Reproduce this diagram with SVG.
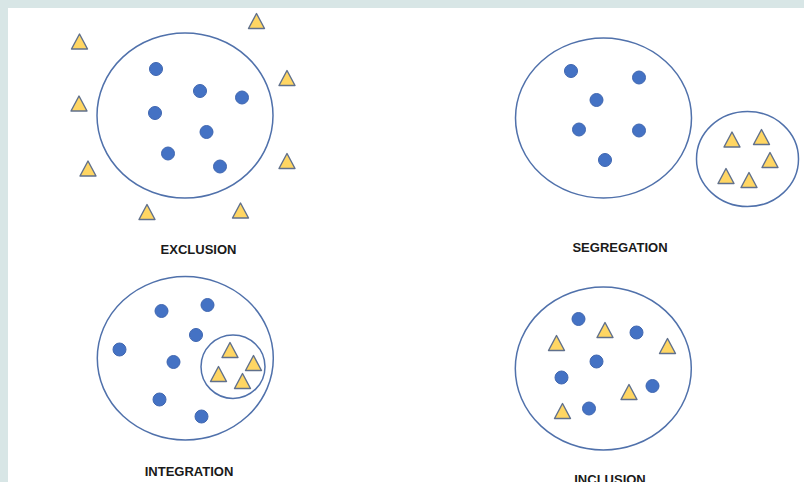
<svg xmlns="http://www.w3.org/2000/svg" xmlns:xlink="http://www.w3.org/1999/xlink" width="804" height="482" viewBox="0 0 804 482">
<style>
.ring{fill:none;stroke:#5071ab;stroke-width:1.5}
.dot{fill:#4472c4;stroke:#3f66b0;stroke-width:1}
.tri{fill:#ffd663;stroke:#60708c;stroke-width:1.4;stroke-linejoin:round}
.lbl{font-family:"Liberation Sans",Arial,sans-serif;font-weight:bold;font-size:13px;fill:#1a1a1a;text-anchor:middle}
</style>
<defs>
<circle id="d" r="6.5" class="dot"/>
<path id="t" d="M0,-8 L8,7 L-8,7 Z" class="tri"/>
</defs>
<rect width="804" height="482" fill="#d8e6e6"/>
<rect x="8" y="8" width="796" height="474" fill="#ffffff"/>

<g id="exclusion">
<ellipse class="ring" cx="185" cy="115.5" rx="88" ry="82.5"/>
<use href="#d" x="156" y="69"/>
<use href="#d" x="200" y="91"/>
<use href="#d" x="242" y="97.5"/>
<use href="#d" x="155" y="113"/>
<use href="#d" x="206.5" y="132"/>
<use href="#d" x="168" y="153.5"/>
<use href="#d" x="220" y="166.5"/>
<use href="#t" x="256.5" y="21.5"/>
<use href="#t" x="79.5" y="42"/>
<use href="#t" x="287" y="78.5"/>
<use href="#t" x="79" y="104"/>
<use href="#t" x="88" y="169"/>
<use href="#t" x="287" y="161.5"/>
<use href="#t" x="147" y="212.5"/>
<use href="#t" x="240.5" y="211"/>
<text class="lbl" x="198.5" y="254">EXCLUSION</text>
</g>

<g id="segregation">
<ellipse class="ring" cx="603.5" cy="118" rx="88" ry="80"/>
<use href="#d" x="571" y="71"/>
<use href="#d" x="639" y="77.5"/>
<use href="#d" x="596.5" y="100"/>
<use href="#d" x="579" y="129.5"/>
<use href="#d" x="639" y="130.5"/>
<use href="#d" x="605" y="160"/>
<ellipse class="ring" cx="747.5" cy="159" rx="51" ry="47.5"/>
<use href="#t" x="732" y="140"/>
<use href="#t" x="761.5" y="137.5"/>
<use href="#t" x="770" y="160.5"/>
<use href="#t" x="726" y="176.5"/>
<use href="#t" x="749" y="180.5"/>
<text class="lbl" x="620" y="252">SEGREGATION</text>
</g>

<g id="integration">
<ellipse class="ring" cx="185.3" cy="358.3" rx="88" ry="81.7"/>
<use href="#d" x="161.5" y="311"/>
<use href="#d" x="207.5" y="305"/>
<use href="#d" x="196" y="335"/>
<use href="#d" x="119.5" y="349.5"/>
<use href="#d" x="173.5" y="362"/>
<use href="#d" x="159.5" y="399.5"/>
<use href="#d" x="201.5" y="416.5"/>
<ellipse class="ring" cx="233" cy="366.7" rx="32" ry="31.7"/>
<use href="#t" x="230" y="350.5"/>
<use href="#t" x="253.5" y="363.5"/>
<use href="#t" x="218.5" y="374.5"/>
<use href="#t" x="242.5" y="381.5"/>
<text class="lbl" x="189" y="476">INTEGRATION</text>
</g>

<g id="inclusion">
<ellipse class="ring" cx="603.3" cy="368.5" rx="88" ry="81.5"/>
<use href="#d" x="578.5" y="319"/>
<use href="#d" x="636.5" y="332.5"/>
<use href="#d" x="596.5" y="361.5"/>
<use href="#d" x="561.5" y="377.5"/>
<use href="#d" x="652.5" y="386"/>
<use href="#d" x="589" y="408.5"/>
<use href="#t" x="605" y="330.5"/>
<use href="#t" x="556.5" y="343.5"/>
<use href="#t" x="667.5" y="346.5"/>
<use href="#t" x="629" y="392.5"/>
<use href="#t" x="562.5" y="411.5"/>
<text class="lbl" x="610" y="483.5">INCLUSION</text>
</g>
</svg>
